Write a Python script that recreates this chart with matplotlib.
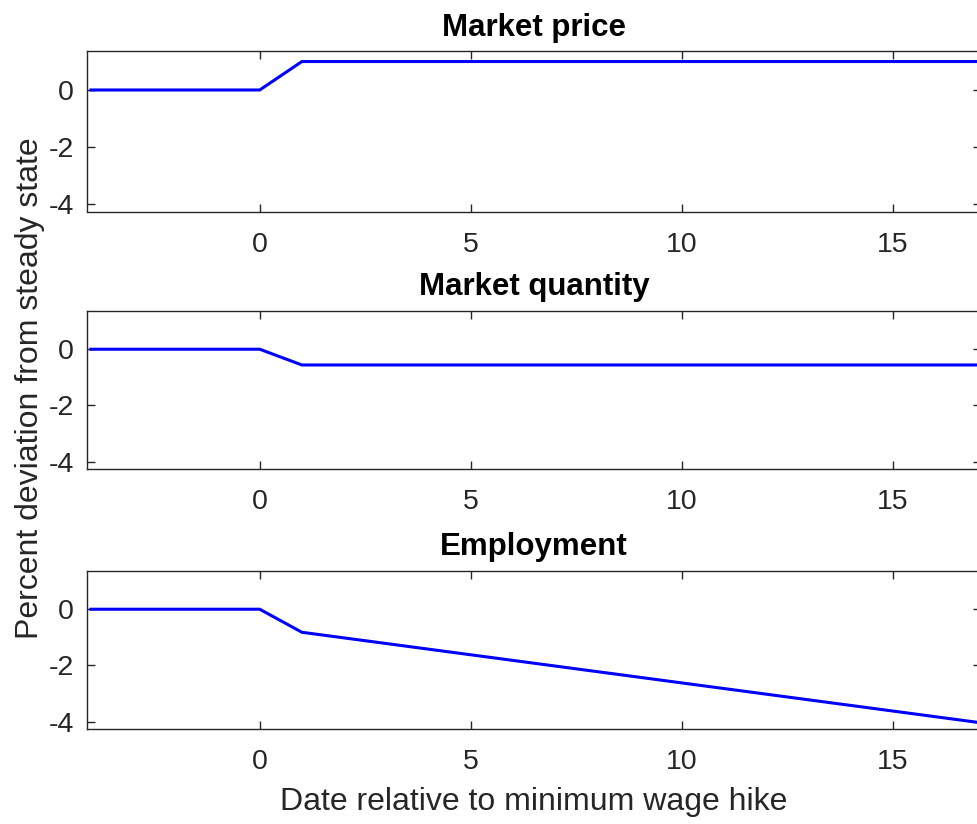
import matplotlib
matplotlib.use("Agg")
import matplotlib.pyplot as plt

# Data
dates = [-4, -3, -2, -1, 0, 1, 2, 3, 4, 5, 6, 7, 8, 9, 10, 11, 12, 13, 14, 15, 16, 17]
market_price = [0, 0, 0, 0, 0, 1.0, 1.0, 1.0, 1.0, 1.0, 1.0, 1.0, 1.0, 1.0, 1.0, 1.0,
                1.0, 1.0, 1.0, 1.0, 1.0, 1.0]
market_quantity = [0, 0, 0, 0, 0, -0.56, -0.56, -0.56, -0.56, -0.56, -0.56, -0.56, -0.56,
                   -0.56, -0.56, -0.56, -0.56, -0.56, -0.56, -0.56, -0.56, -0.56]
employment = [0, 0, 0, 0, 0, -0.82, -1.02, -1.22, -1.42, -1.62, -1.82, -2.02, -2.22,
              -2.42, -2.62, -2.82, -3.02, -3.22, -3.42, -3.62, -3.82, -4.02]
titles = ["Market price", "Market quantity", "Employment"]
series = [market_price, market_quantity, employment]
xticks = [0, 5, 10, 15]
yticks = [-4, -2, 0]

plt.rcParams['font.family'] = ['Liberation Sans', 'DejaVu Sans']
plt.rcParams['axes.unicode_minus'] = False

W, H = 977, 824
fig = plt.figure(figsize=(W / 100, H / 100), dpi=100)

left_px, right_px = 86.7, 981.3
panels = [(51.0, 211.5), (310.7, 469.3), (570.7, 729.3)]
dark = '#262626'

for (top, bot), title, vals in zip(panels, titles, series):
    ax = fig.add_axes([left_px / W, 1 - bot / H, (right_px - left_px) / W, (bot - top) / H])
    ax.plot(dates, vals, color=(0, 0, 1), linewidth=2.2, solid_joinstyle='miter')
    ax.set_xlim(-4.1, 17.1)
    ax.set_ylim(-4.27, 1.37)
    ax.set_xticks(xticks)
    ax.set_yticks(yticks)
    ax.tick_params(axis='both', direction='in', top=True, right=True, length=6, width=1.0,
                   colors=dark, labelsize=20.5)
    ax.tick_params(axis='x', pad=14.5)
    ax.tick_params(axis='y', pad=9)
    for sp in ax.spines.values():
        sp.set_color(dark)
        sp.set_linewidth(1.0)
    ax.set_title(title, fontsize=22.5, fontweight='bold', pad=11, color='black')
    last = ax

last.set_xlabel("Date relative to minimum wage hike", fontsize=23, color=dark, labelpad=8.5)
fig.text(30 / W, 1 - 388 / H, "Percent deviation from steady state", rotation=90,
         ha='center', va='center', fontsize=23, color=dark)

fig.savefig("out.png", dpi=100)
